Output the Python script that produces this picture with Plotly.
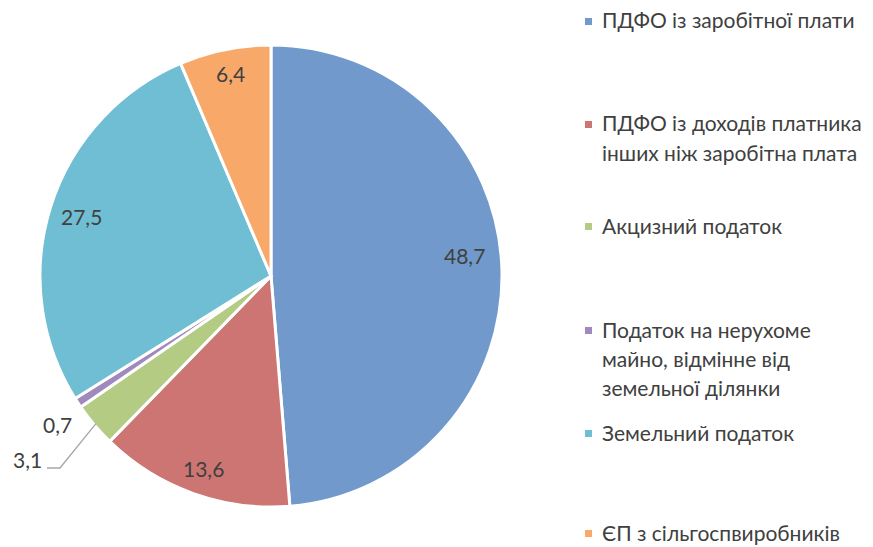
import math
import plotly.graph_objects as go

labels = [
    "ПДФО із заробітної плати",
    "ПДФО із доходів платника інших ніж заробітна плата",
    "Акцизний податок",
    "Податок на нерухоме майно, відмінне від земельної ділянки",
    "Земельний податок",
    "ЄП з сільгоспвиробників",
]
legend_lines = [
    ["ПДФО із заробітної плати"],
    ["ПДФО із доходів платника", "інших ніж заробітна плата"],
    ["Акцизний податок"],
    ["Податок на нерухоме", "майно, відмінне від", "земельної ділянки"],
    ["Земельний податок"],
    ["ЄП з сільгоспвиробників"],
]
values = [48.7, 13.6, 3.1, 0.7, 27.5, 6.4]
colors = ["#7199cb", "#cd7572", "#b3cb82", "#a08abd", "#6fbed3", "#f8a96a"]

W, H = 873, 547
OFF = 8  # page body margin
FONT = "Lato"
TXT = "#404040"

# pie geometry in page pixels
cx, cy, R = 271, 276, 231


def px(x):
    return (x - OFF) / W


def py(y):
    return 1 - (y - OFF) / H


fig = go.Figure()
fig.add_trace(go.Pie(
    labels=labels, values=values, sort=False, direction="clockwise", rotation=0,
    marker=dict(colors=colors, line=dict(color="white", width=3)),
    textinfo="none", showlegend=False, hoverinfo="label+value",
    domain=dict(x=[px(cx - R), px(cx + R)], y=[py(cy + R), py(cy - R)]),
))

annotations = []
shapes = []

# data label placement (style): radius fraction and pixel nudge per slice
radius_frac = [0.84, 0.87, None, None, 0.86, 0.88]
nudge = [(0, -13), (1, 3), None, None, (0, 0), (0, -3)]
total = sum(values)
cum = 0.0
mids = []
for v in values:
    mids.append((cum + v / 2) / total * 2 * math.pi)
    cum += v


def fmt(v):
    return f"{v:.1f}".replace(".", ",")


LBL = dict(family=FONT, size=21, color=TXT)


def label(x, y, text):
    annotations.append(dict(x=px(x), y=py(y), xref="paper", yref="paper", text=text,
                            showarrow=False, xanchor="center", yanchor="middle", font=LBL))


for i, v in enumerate(values):
    a = mids[i]
    if radius_frac[i] is not None:
        r = radius_frac[i] * R
        label(cx + r * math.sin(a) + nudge[i][0], cy - r * math.cos(a) + nudge[i][1], fmt(v))

# small slice labels (outside)
label(57, 424, fmt(values[3]))
label(27, 459, fmt(values[2]))
ga = mids[2]
ex = cx + (R - 2) * math.sin(ga)
ey = cy - (R - 2) * math.cos(ga)
shapes.append(dict(type="path", xref="paper", yref="paper",
                   path=f"M {px(47)},{py(468)} L {px(60)},{py(468)} L {px(ex)},{py(ey)}",
                   line=dict(color="#a6a6a6", width=1.3)))

# legend
first_line_y = [20, 123, 225, 329, 432, 532]
line_gap = 29
for i, lines in enumerate(legend_lines):
    y0 = first_line_y[i]
    shapes.append(dict(type="rect", xref="paper", yref="paper",
                       x0=px(585), x1=px(592), y0=py(y0 - 2), y1=py(y0 + 5),
                       fillcolor=colors[i], line=dict(width=0)))
    for j, t in enumerate(lines):
        annotations.append(dict(x=px(600), y=py(y0 + j * line_gap), xref="paper", yref="paper",
                                text=t, showarrow=False, xanchor="left", yanchor="middle",
                                font=dict(family=FONT, size=21, color=TXT)))

fig.update_layout(
    width=W, height=H, margin=dict(l=0, r=0, t=0, b=0),
    paper_bgcolor="white", plot_bgcolor="white",
    annotations=annotations, shapes=shapes, separators=", ",
)
fig.write_html("out.html")
